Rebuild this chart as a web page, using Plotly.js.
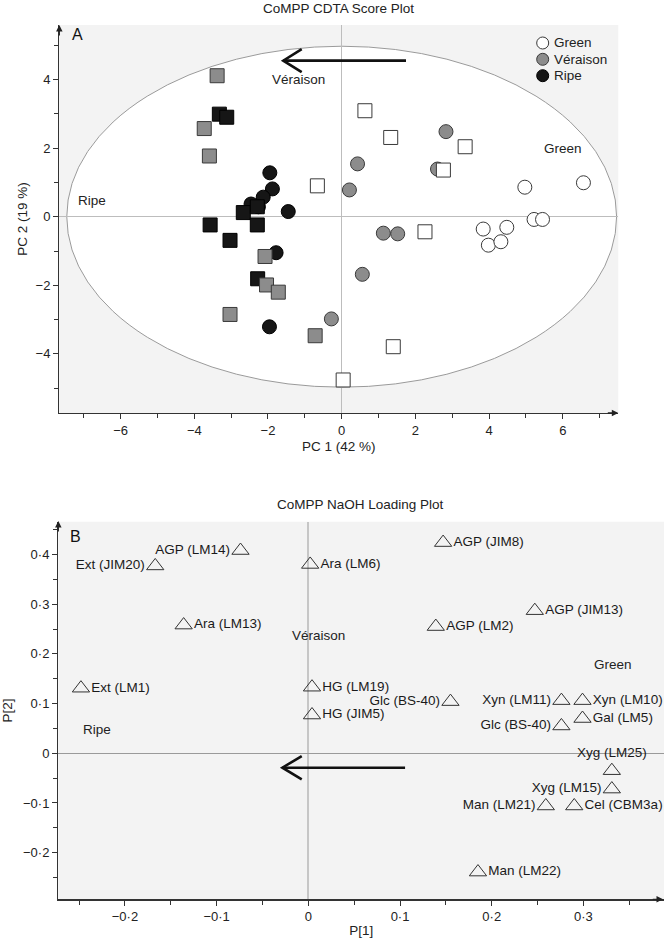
<!DOCTYPE html>
<html>
<head>
<meta charset="utf-8">
<script src="https://cdn.plot.ly/plotly-3.0.1.min.js"></script>
<style>html,body{margin:0;padding:0;background:#fff;}#chart{width:664px;height:938px;}</style>
</head>
<body>
<div id="chart"></div>
<script>
// ---------- Panel A: CoMPP CDTA score plot ----------
const groupNames = ['Green', 'Véraison', 'Ripe'];
// circles
const greenCircleX = [4.97, 6.56, 5.22, 5.45, 3.84, 4.48, 3.98, 4.32];
const greenCircleY = [0.86, 0.99, -0.08, -0.08, -0.36, -0.31, -0.83, -0.73];
const veraisonCircleX = [2.83, 0.43, 2.60, 0.21, 1.13, 1.52, 0.56, -0.28];
const veraisonCircleY = [2.48, 1.54, 1.39, 0.78, -0.48, -0.50, -1.68, -2.98];
const ripeCircleX = [-1.95, -1.88, -2.13, -2.46, -2.26, -1.45, -1.78, -1.96];
const ripeCircleY = [1.28, 0.81, 0.57, 0.37, 0.29, 0.15, -1.05, -3.21];
// squares
const greenSquareX = [0.63, 1.33, 3.35, 2.76, -0.66, 2.26, 1.40, 0.04];
const greenSquareY = [3.09, 2.31, 2.04, 1.36, 0.90, -0.44, -3.79, -4.76];
const veraisonSquareX = [-3.38, -3.73, -3.59, -2.08, -2.04, -1.72, -3.03, -0.72];
const veraisonSquareY = [4.11, 2.57, 1.77, -1.16, -1.99, -2.20, -2.85, -3.47];
const ripeSquareX = [-3.32, -3.12, -2.67, -2.29, -2.29, -3.57, -3.03, -2.28];
const ripeSquareY = [2.99, 2.90, 0.12, 0.29, -0.24, -0.24, -0.69, -1.81];

const scoreXTickVals = [-6, -4, -2, 0, 2, 4, 6];
const scoreXTickText = ['\u22126', '\u22124', '\u22122', '0', '2', '4', '6'];
const scoreXMinor = [-7, -5, -3, -1, 1, 3, 5, 7];
const scoreYTickVals = [-4, -2, 0, 2, 4];
const scoreYTickText = ['\u22124', '\u22122', '0', '2', '4'];
const scoreYMinor = [-5, -3, -1, 1, 3, 5];
const scoreRegionLabels = ['Véraison', 'Ripe', 'Green'];
const scoreRegionX = [-1.18, -6.77, 6.01];
const scoreRegionY = [3.99, 0.46, 1.99];
const ellipseA = 7.46, ellipseB = 4.97;          // Hotelling T2 ellipse semi-axes
const scoreArrowX = [1.745, -1.585], scoreArrowY = 4.55;

// ---------- Panel B: CoMPP NaOH loading plot ----------
const loadingLabels = ['Ext (LM1)', 'Ext (JIM20)', 'AGP (LM14)', 'Ara (LM13)', 'Ara (LM6)',
  'HG (LM19)', 'HG (JIM5)', 'AGP (JIM8)', 'AGP (LM2)', 'AGP (JIM13)', 'Glc (BS-40)',
  'Xyn (LM11)', 'Xyn (LM10)', 'Glc (BS-40)', 'Gal (LM5)', 'Xyg (LM25)', 'Xyg (LM15)',
  'Man (LM21)', 'Cel (CBM3a)', 'Man (LM22)'];
const loadingP1 = [-0.248, -0.167, -0.074, -0.136, 0.002, 0.004, 0.004, 0.147, 0.139, 0.247,
  0.155, 0.276, 0.299, 0.276, 0.299, 0.331, 0.331, 0.259, 0.290, 0.185];
const loadingP2 = [0.131, 0.377, 0.408, 0.258, 0.380, 0.133, 0.077, 0.424, 0.255, 0.287,
  0.104, 0.106, 0.106, 0.055, 0.070, -0.035, -0.072, -0.106, -0.106, -0.239];
const loadingTextPos = ['middle right', 'middle left', 'middle left', 'middle right', 'middle right',
  'middle right', 'middle right', 'middle right', 'middle right', 'middle right', 'middle left',
  'middle left', 'middle right', 'middle left', 'middle right', 'top center', 'middle left',
  'middle left', 'middle right', 'middle right'];
const loadXTickVals = [-0.2, -0.1, 0, 0.1, 0.2, 0.3];
const loadXTickText = ['\u22120\u00b72', '\u22120\u00b71', '0', '0\u00b71', '0\u00b72', '0\u00b73'];
const loadXMinor = [-0.25, -0.15, -0.05, 0.05, 0.15, 0.25, 0.35];
const loadYTickVals = [-0.2, -0.1, 0, 0.1, 0.2, 0.3, 0.4];
const loadYTickText = ['\u22120\u00b72', '\u22120\u00b71', '0', '0\u00b71', '0\u00b72', '0\u00b73', '0\u00b74'];
const loadYMinor = [-0.25, -0.15, -0.05, 0.05, 0.15, 0.25, 0.35, 0.45];
const loadRegionLabels = ['Véraison', 'Green', 'Ripe'];
const loadRegionX = [0.0106, 0.3326, -0.2308];
const loadRegionY = [0.238, 0.1777, 0.047];
const loadArrowX = [0.1055, -0.0283], loadArrowY = -0.029;

// ---------- styling ----------
const W = 664, H = 938;
const FONT = 'Liberation Sans, Arial, Helvetica, sans-serif';
const LBL = 13.5;
const fillColors = {Green: '#ffffff', 'Véraison': '#8c8c8c', Ripe: '#161616'};
const lineColors = {Green: '#3a3a3a', 'Véraison': '#3a3a3a', Ripe: '#000000'};
const px = v => v / W, py = v => 1 - v / H;

function pts(x, y, grp, symbol) {
  return {
    type: 'scatter', mode: 'markers', x: x, y: y, xaxis: 'x', yaxis: 'y',
    name: grp, showlegend: false, hoverinfo: 'x+y',
    marker: {symbol: symbol, size: 14,
      color: fillColors[grp], line: {color: lineColors[grp], width: 1}}
  };
}

const traces = [
  pts(greenCircleX, greenCircleY, 'Green', 'circle'),
  pts(veraisonCircleX, veraisonCircleY, 'Véraison', 'circle'),
  pts(ripeCircleX, ripeCircleY, 'Ripe', 'circle'),
  pts(ripeSquareX, ripeSquareY, 'Ripe', 'square'),
  pts(veraisonSquareX, veraisonSquareY, 'Véraison', 'square'),
  pts(greenSquareX, greenSquareY, 'Green', 'square'),
  {
    type: 'scatter', mode: 'markers+text', x: loadingP1, y: loadingP2, xaxis: 'x2', yaxis: 'y2',
    text: loadingLabels, textposition: loadingTextPos, showlegend: false, cliponaxis: false,
    textfont: {family: FONT, size: LBL, color: '#1a1a1a'},
    marker: {symbol: 'triangle-up-open', size: 15, color: '#333', line: {width: 1}}
  }
];

const tickFont = {family: FONT, size: 13, color: '#222'};
const titleFont = {family: FONT, size: LBL, color: '#222'};
function axis(extra) {
  return Object.assign({
    showgrid: false, showline: true, linecolor: '#333', linewidth: 1.3,
    ticks: 'outside', ticklen: 5, tickwidth: 1, tickcolor: '#333',
    tickfont: tickFont, tickmode: 'array', automargin: false, fixedrange: true
  }, extra);
}

const annotations = [];
function note(o) {
  annotations.push(Object.assign({showarrow: false, xanchor: 'center', yanchor: 'middle',
    font: {family: FONT, size: LBL, color: '#222'}}, o));
}
scoreRegionLabels.forEach((t, i) => note({xref: 'x', yref: 'y', x: scoreRegionX[i], y: scoreRegionY[i], text: t}));
loadRegionLabels.forEach((t, i) => note({xref: 'x2', yref: 'y2', x: loadRegionX[i], y: loadRegionY[i], text: t}));
// panel letters & panel B title
note({xref: 'paper', yref: 'paper', x: px(77.5), y: py(34), text: 'A', font: {family: FONT, size: 16, color: '#111'}});
note({xref: 'paper', yref: 'paper', x: px(75), y: py(536), text: 'B', font: {family: FONT, size: 16, color: '#111'}});
note({xref: 'paper', yref: 'paper', x: px(360), y: py(505), text: 'CoMPP NaOH Loading Plot'});
// axis arrowheads
[[59.3, 25, 0, 12], [618.3, 413, -12, 0], [58.3, 521, 0, 12], [663.3, 899.3, -12, 0]].forEach(a => {
  annotations.push({xref: 'paper', yref: 'paper', x: px(a[0]), y: py(a[1]), ax: a[2], ay: a[3], text: '',
    showarrow: true, arrowhead: 2, arrowsize: 1, arrowwidth: 1.3, arrowcolor: '#222', standoff: 0});
});
// legend (panel A)
const legendY = [43, 59.3, 75.7];
const shapes = [];
groupNames.forEach((g, i) => {
  note({xref: 'paper', yref: 'paper', x: px(551.5), y: py(legendY[i]), xanchor: 'left', text: g});
  shapes.push({type: 'circle', xref: 'paper', yref: 'paper', xsizemode: 'pixel', ysizemode: 'pixel',
    xanchor: px(542.7), yanchor: py(legendY[i]), x0: -6, x1: 6, y0: -6, y1: 6,
    fillcolor: fillColors[g], line: {color: lineColors[g], width: 1}, layer: 'above'});
});
// ellipse
shapes.push({type: 'circle', xref: 'x', yref: 'y', x0: -ellipseA, x1: ellipseA, y0: -ellipseB, y1: ellipseB,
  fillcolor: '#ffffff', line: {color: '#9a9a9a', width: 1}, layer: 'below'});
// direction arrows
function arrowShapes(xr, yr, x0, x1, y, dx, dy) {
  const st = {color: '#111', width: 2.6};
  shapes.push({type: 'line', xref: xr, yref: yr, x0: x0, x1: x1, y0: y, y1: y, line: st});
  shapes.push({type: 'path', xref: xr, yref: yr,
    path: `M${x1 + dx},${y + dy} L${x1},${y} L${x1 + dx},${y - dy}`, line: st});
}
arrowShapes('x', 'y', scoreArrowX[0], scoreArrowX[1], scoreArrowY, 0.5, 0.335);
arrowShapes('x2', 'y2', loadArrowX[0], loadArrowX[1], loadArrowY, 0.0211, 0.0235);

const layout = {
  width: W, height: H, margin: {l: 0, r: 0, t: 0, b: 0},
  paper_bgcolor: '#ffffff', plot_bgcolor: '#f3f3f3', showlegend: false,
  font: {family: FONT, size: 13, color: '#222'},
  title: {text: 'CoMPP CDTA Score Plot', x: px(338.5), y: py(8), xanchor: 'center', yanchor: 'middle',
    font: titleFont},
  xaxis: axis({domain: [px(59.3), px(618.3)], range: [-7.663, 7.506], anchor: 'y',
    tickvals: scoreXTickVals, ticktext: scoreXTickText,
    minor: {tickvals: scoreXMinor, ticks: 'outside', ticklen: 4, tickcolor: '#333'},
    zeroline: true, zerolinecolor: '#bdbdbd', zerolinewidth: 1,
    title: {text: 'PC 1 (42 %)', font: titleFont, standoff: 4}}),
  yaxis: axis({domain: [1 - 413 / H, 1 - 25 / H], range: [-5.723, 5.589], anchor: 'x',
    tickvals: scoreYTickVals, ticktext: scoreYTickText,
    minor: {tickvals: scoreYMinor, ticks: 'outside', ticklen: 4, tickcolor: '#333'},
    zeroline: true, zerolinecolor: '#bdbdbd', zerolinewidth: 1,
    title: {text: 'PC 2 (19 %)', font: titleFont, standoff: 4}}),
  xaxis2: axis({domain: [px(58.3), 1], range: [-0.2727, 0.3879], anchor: 'y2',
    tickvals: loadXTickVals, ticktext: loadXTickText,
    minor: {tickvals: loadXMinor, ticks: 'outside', ticklen: 4, tickcolor: '#333'},
    zeroline: true, zerolinecolor: '#c6c6c6', zerolinewidth: 2,
    title: {text: 'P[1]', font: titleFont, standoff: 2}}),
  yaxis2: axis({domain: [1 - 899.3 / H, 1 - 521.7 / H], range: [-0.2938, 0.466], anchor: 'x2',
    tickvals: loadYTickVals, ticktext: loadYTickText,
    minor: {tickvals: loadYMinor, ticks: 'outside', ticklen: 4, tickcolor: '#333'},
    zeroline: true, zerolinecolor: '#9a9a9a', zerolinewidth: 1,
    title: {text: 'P[2]', font: titleFont, standoff: 7}}),
  shapes: shapes,
  annotations: annotations
};

Plotly.newPlot('chart', traces, layout, {staticPlot: true, displayModeBar: false});
</script>
</body>
</html>
